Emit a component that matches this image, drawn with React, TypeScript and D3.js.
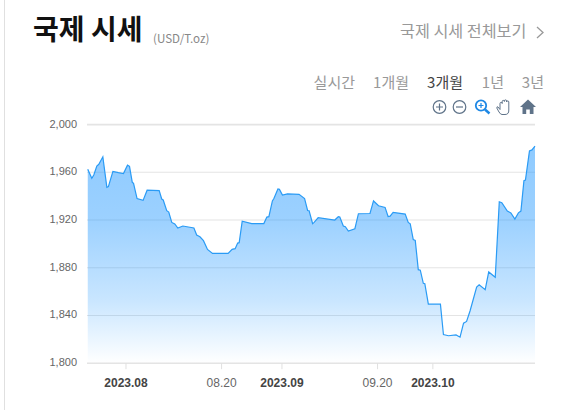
import React from "react";
import * as d3 from "d3";

const dayOffsets = [-7.6,-6.8,-6.4,-5.8,-5.4,-4.6,-3.8,-3.5,-2.6,-1.5,-0.5,0.3,0.7,1.25,1.5,2.2,3.4,4.2,6.6,7.1,7.4,8.1,8.5,9.1,9.7,10.3,11.3,13.5,14.05,14.7,15.4,16.2,17.2,20.3,21.1,21.7,22.2,22.5,23.1,25,27.4,28,28.4,29.1,29.4,30.2,30.5,31.1,32.1,34.4,35.5,36.1,36.4,37.1,37.4,38.2,41.5,42.2,42.5,43.2,43.6,44.2,45.5,46.2,48.5,49.2,50.2,51.5,52.1,52.5,53.1,55.5,56.1,56.5,57.1,57.5,58.1,58.5,59.1,59.4,60.1,62.5,63.1,64.1,65.6,66.4,67.1,67.7,68.4,69.7,70.2,71.4,72.1,73.4,74.2,74.7,75.8,76.5,77.3,78,78.5,79.1,79.4,80.2,80.7,81.3];
const prices = [1962.5,1955,1957.8,1965.3,1966.7,1973,1947.4,1948,1960.8,1959.7,1959,1966,1965,1951.6,1950.8,1938,1936.5,1945,1944.6,1937.6,1936.8,1927.8,1926.7,1918,1916.7,1913.3,1915,1913.3,1907.4,1906,1902.7,1895.4,1892,1892,1895.4,1896,1900.7,1901,1919,1917,1917,1922.5,1922.8,1936,1938,1946,1945.7,1941,1942,1941.5,1938,1928,1927.8,1917,1918,1922,1920,1922.8,1922.5,1915,1914.4,1910.8,1912.7,1925.3,1925.5,1936,1932,1930.6,1923,1923.3,1926.4,1925,1918,1916.8,1903.6,1903,1878.4,1878,1867,1866.6,1849.5,1849.5,1824,1823,1823.7,1821.8,1833.6,1835,1844,1863.8,1865.8,1861.6,1876.5,1872,1935.3,1934.5,1927.5,1926,1920.8,1926,1927.5,1953,1953.5,1978,1978.8,1982];
const yTicks = [1800,1840,1880,1920,1960,2000];
const xTicks = [
  { date: "2023-08-01", label: "2023.08", major: true },
  { date: "2023-08-20", label: "08.20", major: false },
  { date: "2023-09-01", label: "2023.09", major: true },
  { date: "2023-09-20", label: "09.20", major: false },
  { date: "2023-10-01", label: "2023.10", major: true },
];
const ranges = [
  { label: "실시간", right: 355 },
  { label: "1개월", right: 409 },
  { label: "3개월", right: 463 },
  { label: "1년", right: 504 },
  { label: "3년", right: 544 },
];

const KR = "'Noto Sans CJK KR','Noto Sans',sans-serif";
const LAT = "'Liberation Sans',Arial,sans-serif";
const base = Date.UTC(2023, 7, 1);
const DAY = 86400000;
const L = 87, R = 535, T = 124.6, B = 363.2;

export default function App() {
  const x = d3.scaleUtc().domain([new Date(base - 7.75 * DAY), new Date(base + 81.3 * DAY)]).range([L, R]);
  const y = d3.scaleLinear().domain([1800, 2000]).range([B, T]);
  const pts = dayOffsets.map((d, i) => ({ t: new Date(base + d * DAY), v: prices[i] }));
  const line = d3.line<any>().x(d => x(d.t)).y(d => y(d.v));
  const area = d3.area<any>().x(d => x(d.t)).y0(B).y1(d => y(d.v));
  return (
    <svg width={566} height={410} style={{ position: "absolute", left: 0, top: 0, background: "#fff" }}>
      <defs>
        <linearGradient id="g" x1="0" y1="0" x2="0" y2="1">
          <stop offset="0" stopColor="#1e96ff" stopOpacity={0.5} />
          <stop offset="0.34" stopColor="#1e96ff" stopOpacity={0.44} />
          <stop offset="0.71" stopColor="#1e96ff" stopOpacity={0.24} />
          <stop offset="1" stopColor="#1e96ff" stopOpacity={0} />
        </linearGradient>
      </defs>
      <line x1={4.5} x2={4.5} y1={0} y2={410} stroke="#e0e0e0" strokeWidth={1} />
      <text x={33} y={40} fontFamily={KR} fontWeight={700} fontSize={28} fill="#111">국제 시세</text>
      <text x={153} y={43} fontFamily={KR} fontSize={11.6} fill="#888">(USD/T.oz)</text>
      <text x={400} y={37} fontFamily={KR} fontSize={16.2} fill="#999">국제 시세 전체보기</text>
      <path d="M537 27 L543 32.5 L537 38" fill="none" stroke="#999" strokeWidth={1.3} />
      {ranges.map(r => (
        <text key={r.label} x={r.right} y={88} textAnchor="end" fontFamily={KR} fontSize={15}
          fill={r.label === "3개월" ? "#444" : "#999"}>{r.label}</text>
      ))}
      {yTicks.map(v => (
        <g key={v}>
          <line x1={L} x2={R} y1={y(v)} y2={y(v)} stroke="#e4e4e4" strokeWidth={v === 1800 || v === 2000 ? 1.6 : 1.1} />
          <text x={77} y={y(v) + 3} textAnchor="end" fontFamily={LAT} fontSize={11} fill="#666">{d3.format(",")(v)}</text>
        </g>
      ))}
      <path d={area(pts) || ""} fill="url(#g)" />
      <path d={line(pts) || ""} fill="none" stroke="#2a9bf5" strokeWidth={1.2} />
      {xTicks.map(t => {
        const px = x(new Date(t.date + "T00:00:00Z"));
        return (
          <g key={t.date}>
            <line x1={px} x2={px} y1={B} y2={B + 6} stroke="#e0e0e0" />
            <text x={px} y={387} textAnchor="middle" fontFamily={LAT} fontSize={12}
              fontWeight={t.major ? 700 : 400} fill={t.major ? "#444" : "#666"}>{t.label}</text>
          </g>
        );
      })}
      <g fill="none" stroke="#5f7389" strokeWidth={1.2}>
        <circle cx={439.5} cy={107} r={6.3} />
        <path d="M436 107 H443 M439.5 103.5 V110.5" />
        <circle cx={459.5} cy={107} r={6.3} />
        <path d="M456 107 H463" />
      </g>
      <g fill="none" stroke="#1e88e5" strokeWidth={1.8}>
        <circle cx={481} cy={105.5} r={5.2} />
        <path d="M485 109.5 L489.5 113.5" strokeWidth={2.4} />
        <path d="M478.5 105.5 H483.5 M481 103 V108" strokeWidth={1.2} />
      </g>
      <path d="M498 107 L500 109.5 V103.5 a1.1 1.1 0 0 1 2.2 0 V101.5 a1.1 1.1 0 0 1 2.2 0 V101 a1.1 1.1 0 0 1 2.2 0 V102 a1.1 1.1 0 0 1 2.2 0 V110 Q509 114.5 505 114.5 H502 Q500.5 114.5 499 112 L496.8 108 Q497 106 498 107 Z"
        fill="#fff" stroke="#5f7389" strokeWidth={1} />
      <path d="M528 99.5 L536 107 H533.5 V114 H529.8 V109.5 H526.2 V114 H522.5 V107 H520 Z" fill="#5f7389" />
    </svg>
  );
}
